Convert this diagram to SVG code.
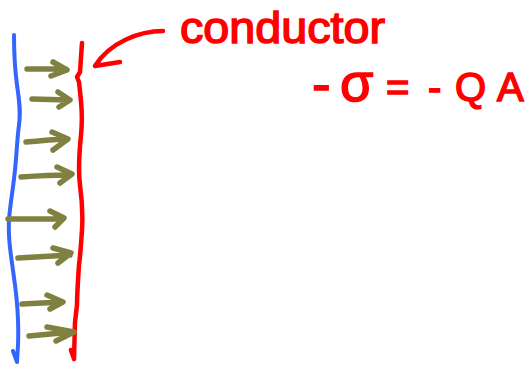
<svg xmlns="http://www.w3.org/2000/svg" width="529" height="369" viewBox="0 0 529 369">
<style>
.blue{fill:none;stroke:#3366ff;stroke-width:4;stroke-linecap:round;stroke-linejoin:round}
.red{fill:none;stroke:#ff0000;stroke-width:4.5;stroke-linecap:round;stroke-linejoin:round}
.arr{fill:none;stroke:#808040;stroke-width:5.5;stroke-linecap:round;stroke-linejoin:round}
.lbl{font-family:"Liberation Sans",Arial,sans-serif;fill:#ff0000;stroke:#ff0000;stroke-width:1.5}
</style>
<rect width="529" height="369" fill="#ffffff"/>
<g id="charge-surface">
<path class="blue" d="M14,35 C14,50 15,70 17,85 C19,100 21,110 19,125 C17,140 17,150 15,170 C13,190 10,205 9,220 C8,240 11,255 15,285 C17,300 19,320 18,345 L17,362 M13,351 L17,362"/>
</g>
<g id="conductor-plate">
<path class="red" d="M82,43 L80,72 L77,77 L79,82 C81,100 83,115 81,135 C79,155 78,170 80,185 C82,200 83,215 82,230 C81,245 80,258 79,265 C78,280 77,295 77,305 L75,322 L74,359 M71,350 L74,359"/>
</g>
<g id="label-conductor">
<text class="lbl" x="180" y="43" font-size="44" textLength="205" lengthAdjust="spacingAndGlyphs">conductor</text>
</g>
<g id="equation">
<text class="lbl" y="101" font-size="40"><tspan x="312" font-size="56" dy="2">-</tspan><tspan x="340" dy="-2" font-size="54">σ</tspan><tspan x="386">=</tspan><tspan x="428">-</tspan><tspan x="455">Q</tspan><tspan x="497">A</tspan></text>
</g>
<g id="connectors">
<path class="red" d="M163,31 C140,31 110,42 95,66 L120,62"/>
<path class="arr" d="M27,69 L66,69 M53,62 L67,70 L51,76"/>
<path class="arr" d="M32,99 L68,100 M58,92 L70,100 L59,107"/>
<path class="arr" d="M26,142 C40,141 55,139 67,139 M52,132 L68,139 L53,150"/>
<path class="arr" d="M21,177 C35,176 55,175 70,175 M57,167 L72,174 L60,183"/>
<path class="arr" d="M8,219 L63,219 M50,211 L64,218 L55,227"/>
<path class="arr" d="M18,258 L70,255 M53,248 L71,253 L58,263"/>
<path class="arr" d="M22,304 L62,302 M47,295 L63,302 L50,309"/>
<path class="arr" d="M29,336 L72,332 M47,327 L74,332 L56,341"/>
</g>
</svg>
